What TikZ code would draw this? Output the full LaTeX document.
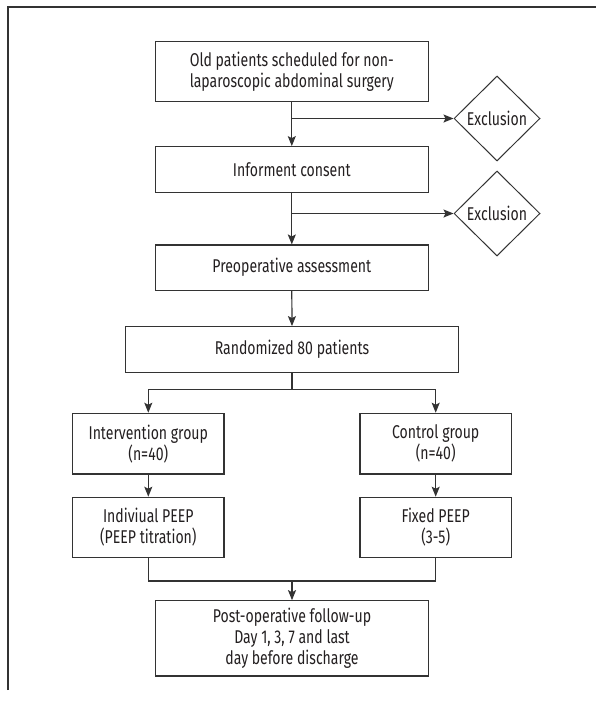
\documentclass[tikz,border=0pt]{standalone}
\usepackage{fontspec}
\setmainfont{Fira Sans}[FakeStretch=0.76]
\usetikzlibrary{shapes.geometric,arrows.meta}
\definecolor{ink}{HTML}{333333}
\definecolor{txt}{HTML}{231F20}
\begin{document}
\begin{tikzpicture}[x=1pt,y=-1pt,
  font=\fontsize{18.5}{21}\selectfont,
  every node/.style={text=txt},
  box/.style={draw=ink,line width=1.2pt,inner sep=0pt,align=center},
  excl/.style={draw=ink,line width=1pt,shape=diamond,minimum width=86pt,minimum height=85pt,inner sep=0pt},
  conn/.style={draw=ink,line width=1.2pt},
  arr/.style={conn,-{Stealth[length=10pt,width=8pt,inset=2pt]}}]
\useasboundingbox (0,0) rectangle (596,707);
\draw[ink,line width=1.3pt] (8,690) -- (8,7) -- (597,7);
\node[box,minimum width=273pt,minimum height=60pt] (b1) at (291.8,71.7) {Old patients scheduled for non-\\laparoscopic abdominal surgery};
\node[box,minimum width=273pt,minimum height=45.6pt] (b2) at (291.8,169.5) {Informent consent};
\node[box,minimum width=273pt,minimum height=45.3pt] (b3) at (291.8,267.7) {Preoperative assessment};
\node[box,minimum width=333.4pt,minimum height=46pt] (b4) at (292,349.7) {Randomized 80 patients};
\node[box,minimum width=151.3pt,minimum height=60.7pt] (b5) at (148.3,443.7) {Intervention group\\(n=40)};
\node[box,minimum width=151.3pt,minimum height=60.7pt] (b6) at (435.7,443.7) {Control group\\(n=40)};
\node[box,minimum width=151.3pt,minimum height=60.4pt] (b7) at (148.3,527.5) {Indiviual PEEP\\(PEEP titration)};
\node[box,minimum width=151.3pt,minimum height=60.4pt] (b8) at (435.7,527.5) {Fixed PEEP\\(3-5)};
\node[box,minimum width=272.6pt,minimum height=75.3pt] (b9) at (292,638.4) {Post-operative follow-up\\Day 1, 3, 7 and last\\day before discharge};
\node[excl] (d1) at (497,118.5) {Exclusion};
\node[excl] (d2) at (497,213.5) {Exclusion};
\coordinate (j1) at (b1.south |- d1.west);
\coordinate (j2) at (b2.south |- d2.west);
\coordinate (split) at (292,389.3);
\coordinate (merge) at (292,581);
\draw[arr] (b1.south) -- (b2.north);
\draw[arr] (j1) -- (d1.west);
\draw[arr] (b2.south) -- (b3.north);
\draw[arr] (j2) -- (d2.west);
\draw[arr] (b3.south) -- (b4.north);
\draw[conn] (b4.south) -- (split);
\draw[arr] (split) -| (b5.north);
\draw[arr] (split) -| (b6.north);
\draw[arr] (b5.south) -- (b7.north);
\draw[arr] (b6.south) -- (b8.north);
\draw[conn] (b7.south) |- (merge);
\draw[conn] (b8.south) |- (merge);
\draw[arr] (merge) -- (b9.north);
\end{tikzpicture}
\end{document}
